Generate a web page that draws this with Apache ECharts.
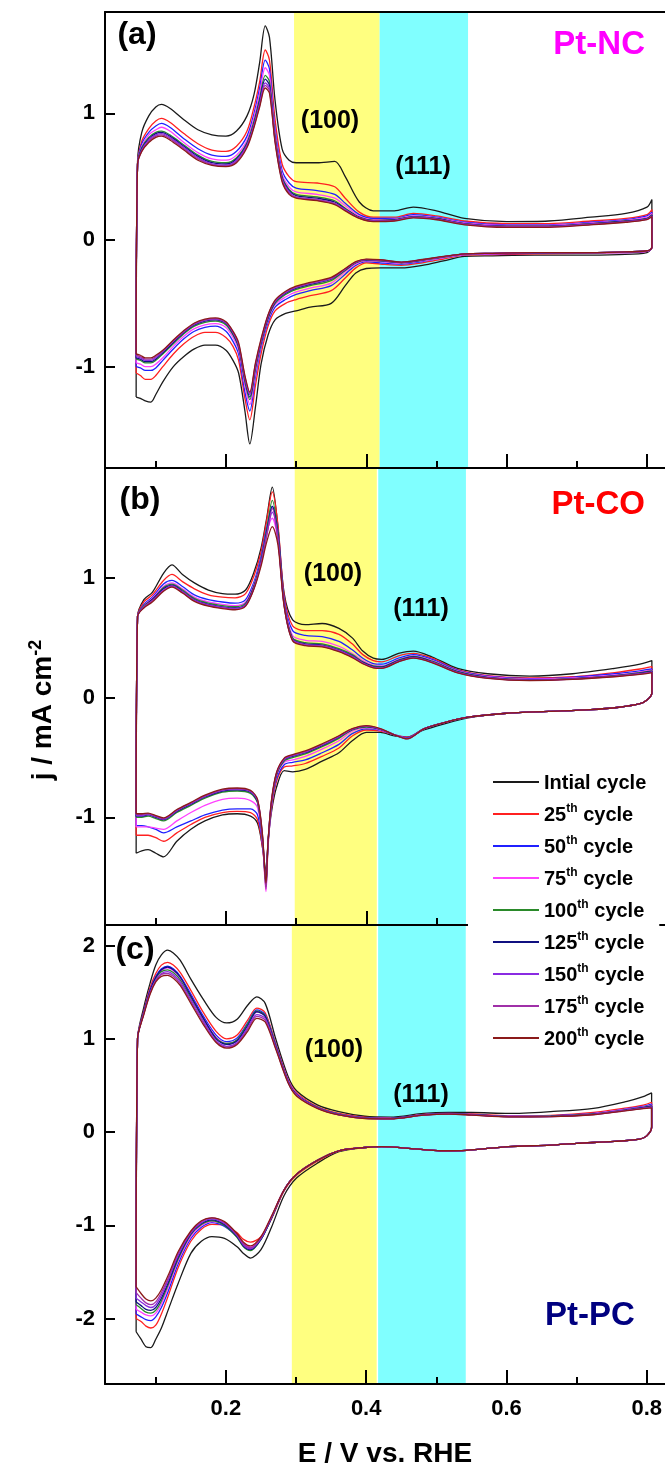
<!DOCTYPE html>
<html><head><meta charset="utf-8">
<script src="https://cdn.jsdelivr.net/npm/echarts@6/dist/echarts.min.js"></script>
<style>html,body{margin:0;padding:0;background:#fff}#c{width:665px;height:1468px}</style>
</head><body><div id="c"></div>
<script>
// ---------- categories / styles ----------
const cycleNames = ['Intial cycle','25th cycle','50th cycle','75th cycle','100th cycle','125th cycle','150th cycle','175th cycle','200th cycle'];
const cycleColors = ['#1a1a1a','#ff2020','#2020ff','#ff40ff','#2a8a2a','#101080','#8a2be2','#a030a8','#8b1a1a'];
const xMajorTicks = [0.2,0.4,0.6,0.8];
const xMinorTicks = [0.1,0.3,0.5,0.7];
const yTicksA = [-1,0,1];
const yTicksB = [-1,0,1];
const yTicksC = [-2,-1,0,1,2];
const bandYellowA = [0.297,0.419], bandCyanA = [0.419,0.545];
const bandYellowB = [0.298,0.415], bandCyanB = [0.417,0.542];
const bandYellowC = [0.294,0.415], bandCyanC = [0.417,0.542];

// ---------- Panel (a) Pt-NC ----------
const EaA = [0.072,0.074,0.08,0.09,0.10,0.108,0.12,0.14,0.16,0.18,0.20,0.215,0.23,0.24,0.248,0.256,0.262,0.27,0.28,0.29,0.30,0.33,0.355,0.37,0.39,0.41,0.44,0.467,0.50,0.54,0.60,0.66,0.72,0.77,0.80,0.807];
const jaA = [
 [-1.24,0.62,0.85,0.98,1.05,1.07,1.04,0.95,0.87,0.83,0.82,0.86,0.98,1.15,1.4,1.69,1.6,1.1,0.72,0.63,0.61,0.61,0.62,0.5,0.3,0.23,0.23,0.26,0.23,0.17,0.145,0.15,0.18,0.21,0.26,0.32],
 [-1.05,0.6,0.78,0.88,0.94,0.96,0.93,0.84,0.76,0.71,0.70,0.74,0.86,1.05,1.25,1.5,1.42,0.95,0.6,0.5,0.46,0.45,0.42,0.33,0.22,0.18,0.18,0.21,0.19,0.15,0.13,0.13,0.15,0.17,0.2,0.24],
 [-1.0,0.6,0.76,0.85,0.9,0.92,0.89,0.8,0.72,0.67,0.66,0.7,0.82,1.0,1.2,1.42,1.35,0.88,0.55,0.45,0.41,0.39,0.36,0.29,0.2,0.17,0.17,0.2,0.18,0.14,0.12,0.12,0.14,0.16,0.19,0.22],
 [-0.97,0.6,0.74,0.83,0.87,0.89,0.86,0.77,0.69,0.64,0.63,0.67,0.79,0.97,1.16,1.36,1.3,0.85,0.52,0.42,0.38,0.36,0.33,0.27,0.19,0.16,0.165,0.19,0.175,0.135,0.115,0.115,0.135,0.155,0.18,0.21],
 [-0.94,0.6,0.73,0.81,0.85,0.86,0.83,0.75,0.67,0.62,0.61,0.65,0.77,0.94,1.12,1.3,1.25,0.82,0.5,0.4,0.36,0.34,0.31,0.25,0.18,0.155,0.16,0.185,0.17,0.13,0.11,0.11,0.13,0.15,0.17,0.2],
 [-0.93,0.6,0.72,0.8,0.84,0.85,0.82,0.74,0.66,0.61,0.6,0.64,0.76,0.92,1.1,1.27,1.22,0.8,0.49,0.39,0.35,0.33,0.3,0.245,0.178,0.152,0.158,0.183,0.168,0.128,0.108,0.108,0.128,0.148,0.168,0.195],
 [-0.92,0.6,0.71,0.79,0.83,0.84,0.81,0.73,0.65,0.6,0.59,0.63,0.75,0.91,1.08,1.24,1.2,0.79,0.48,0.38,0.34,0.32,0.29,0.24,0.175,0.15,0.155,0.18,0.165,0.125,0.106,0.106,0.125,0.145,0.165,0.19],
 [-0.91,0.6,0.7,0.78,0.82,0.83,0.8,0.72,0.64,0.595,0.585,0.62,0.74,0.9,1.06,1.22,1.18,0.78,0.47,0.37,0.335,0.315,0.285,0.235,0.172,0.148,0.153,0.178,0.163,0.123,0.104,0.104,0.123,0.143,0.163,0.188],
 [-0.9,0.6,0.7,0.77,0.81,0.82,0.79,0.71,0.63,0.59,0.58,0.61,0.73,0.89,1.05,1.2,1.16,0.77,0.46,0.36,0.33,0.31,0.28,0.23,0.17,0.145,0.15,0.175,0.16,0.12,0.1,0.1,0.12,0.14,0.16,0.185]
];
const EcA = [0.807,0.80,0.76,0.70,0.64,0.58,0.54,0.51,0.48,0.45,0.42,0.40,0.385,0.37,0.35,0.32,0.30,0.285,0.27,0.26,0.25,0.242,0.234,0.227,0.218,0.21,0.20,0.185,0.17,0.155,0.14,0.125,0.11,0.10,0.093,0.085,0.078,0.072];
const jcA = [
 [-0.05,-0.1,-0.115,-0.12,-0.12,-0.125,-0.13,-0.165,-0.2,-0.22,-0.22,-0.225,-0.26,-0.36,-0.5,-0.53,-0.56,-0.58,-0.63,-0.75,-0.98,-1.32,-1.61,-1.35,-1.05,-0.95,-0.87,-0.83,-0.83,-0.86,-0.92,-1.0,-1.12,-1.22,-1.28,-1.27,-1.25,-1.24],
 [-0.06,-0.09,-0.1,-0.105,-0.11,-0.115,-0.12,-0.15,-0.18,-0.2,-0.19,-0.18,-0.22,-0.3,-0.4,-0.44,-0.47,-0.5,-0.56,-0.68,-0.9,-1.15,-1.42,-1.25,-0.95,-0.84,-0.77,-0.73,-0.73,-0.76,-0.82,-0.9,-1.0,-1.07,-1.1,-1.1,-1.07,-1.05],
 [-0.06,-0.09,-0.1,-0.1,-0.105,-0.11,-0.115,-0.14,-0.17,-0.19,-0.18,-0.17,-0.2,-0.27,-0.36,-0.4,-0.43,-0.47,-0.53,-0.65,-0.85,-1.08,-1.35,-1.2,-0.9,-0.8,-0.72,-0.68,-0.69,-0.72,-0.78,-0.86,-0.95,-1.01,-1.03,-1.03,-1.01,-1.0],
 [-0.06,-0.09,-0.1,-0.1,-0.1,-0.11,-0.115,-0.14,-0.165,-0.185,-0.17,-0.165,-0.19,-0.25,-0.34,-0.38,-0.41,-0.45,-0.51,-0.63,-0.83,-1.05,-1.3,-1.15,-0.87,-0.77,-0.69,-0.66,-0.67,-0.7,-0.76,-0.84,-0.93,-0.98,-1.0,-1.0,-0.98,-0.97],
 [-0.06,-0.085,-0.095,-0.1,-0.1,-0.105,-0.11,-0.135,-0.16,-0.18,-0.165,-0.16,-0.18,-0.24,-0.32,-0.36,-0.39,-0.43,-0.5,-0.62,-0.82,-1.02,-1.26,-1.12,-0.85,-0.75,-0.67,-0.64,-0.65,-0.68,-0.74,-0.82,-0.9,-0.95,-0.97,-0.97,-0.95,-0.94],
 [-0.06,-0.085,-0.095,-0.1,-0.1,-0.105,-0.11,-0.133,-0.158,-0.178,-0.162,-0.157,-0.177,-0.235,-0.31,-0.35,-0.38,-0.42,-0.49,-0.61,-0.81,-1.0,-1.24,-1.1,-0.84,-0.74,-0.66,-0.63,-0.64,-0.67,-0.73,-0.81,-0.89,-0.94,-0.96,-0.96,-0.94,-0.93],
 [-0.06,-0.085,-0.095,-0.1,-0.1,-0.105,-0.11,-0.132,-0.156,-0.176,-0.16,-0.155,-0.175,-0.23,-0.305,-0.345,-0.375,-0.415,-0.485,-0.6,-0.8,-0.99,-1.22,-1.09,-0.83,-0.73,-0.655,-0.625,-0.635,-0.665,-0.725,-0.8,-0.88,-0.93,-0.95,-0.95,-0.93,-0.92],
 [-0.06,-0.085,-0.095,-0.1,-0.1,-0.105,-0.11,-0.131,-0.155,-0.175,-0.158,-0.153,-0.173,-0.228,-0.3,-0.34,-0.37,-0.41,-0.48,-0.595,-0.79,-0.98,-1.21,-1.08,-0.82,-0.725,-0.65,-0.62,-0.63,-0.66,-0.72,-0.795,-0.875,-0.92,-0.94,-0.94,-0.92,-0.91],
 [-0.06,-0.085,-0.095,-0.1,-0.1,-0.105,-0.11,-0.13,-0.154,-0.174,-0.156,-0.151,-0.171,-0.225,-0.295,-0.335,-0.365,-0.405,-0.475,-0.59,-0.78,-0.97,-1.2,-1.07,-0.81,-0.72,-0.645,-0.615,-0.625,-0.655,-0.715,-0.79,-0.87,-0.91,-0.93,-0.93,-0.91,-0.9]
];

// ---------- Panel (b) Pt-CO ----------
const EaB = [0.072,0.074,0.083,0.095,0.111,0.123,0.138,0.155,0.175,0.195,0.213,0.228,0.24,0.25,0.258,0.266,0.274,0.283,0.295,0.313,0.337,0.361,0.38,0.395,0.41,0.422,0.446,0.467,0.494,0.53,0.573,0.633,0.694,0.754,0.79,0.807];
const jaB = [
 [-1.30,0.68,0.82,0.88,1.04,1.11,1.03,0.96,0.9,0.87,0.865,0.9,1.05,1.25,1.5,1.76,1.43,0.87,0.65,0.61,0.62,0.58,0.5,0.39,0.33,0.32,0.37,0.39,0.34,0.245,0.2,0.18,0.2,0.245,0.28,0.31],
 [-1.15,0.68,0.8,0.86,0.98,1.03,0.97,0.91,0.86,0.84,0.835,0.87,1.02,1.22,1.48,1.72,1.45,0.85,0.6,0.56,0.56,0.53,0.45,0.36,0.31,0.3,0.35,0.37,0.33,0.235,0.185,0.165,0.175,0.21,0.24,0.26],
 [-1.07,0.68,0.78,0.84,0.95,0.98,0.93,0.86,0.82,0.8,0.79,0.82,0.97,1.18,1.42,1.6,1.4,0.82,0.56,0.52,0.51,0.47,0.4,0.33,0.285,0.28,0.33,0.36,0.32,0.23,0.18,0.16,0.17,0.2,0.225,0.24],
 [-1.08,0.68,0.77,0.83,0.93,0.96,0.91,0.84,0.8,0.78,0.77,0.8,0.95,1.15,1.38,1.5,1.32,0.8,0.52,0.48,0.47,0.43,0.37,0.31,0.27,0.265,0.32,0.35,0.31,0.225,0.175,0.155,0.165,0.19,0.215,0.23],
 [-1.0,0.68,0.77,0.82,0.92,0.95,0.9,0.83,0.79,0.77,0.76,0.79,0.94,1.15,1.4,1.65,1.38,0.79,0.5,0.46,0.45,0.41,0.36,0.3,0.265,0.26,0.315,0.345,0.305,0.22,0.17,0.15,0.16,0.185,0.21,0.225],
 [-0.99,0.68,0.76,0.82,0.91,0.94,0.89,0.82,0.78,0.76,0.75,0.78,0.93,1.14,1.38,1.6,1.36,0.78,0.49,0.45,0.44,0.4,0.35,0.295,0.26,0.255,0.31,0.34,0.3,0.215,0.168,0.148,0.158,0.182,0.205,0.22],
 [-0.985,0.68,0.76,0.81,0.9,0.935,0.885,0.815,0.775,0.755,0.745,0.775,0.92,1.13,1.36,1.55,1.33,0.77,0.485,0.445,0.435,0.395,0.345,0.29,0.255,0.25,0.305,0.335,0.297,0.212,0.165,0.146,0.156,0.18,0.2,0.215],
 [-0.975,0.68,0.755,0.81,0.895,0.93,0.88,0.81,0.77,0.75,0.74,0.77,0.915,1.12,1.35,1.58,1.33,0.765,0.48,0.44,0.43,0.39,0.34,0.287,0.252,0.247,0.302,0.333,0.295,0.21,0.164,0.145,0.155,0.178,0.198,0.212],
 [-0.97,0.68,0.75,0.8,0.89,0.925,0.875,0.805,0.765,0.745,0.735,0.765,0.91,1.1,1.3,1.43,1.28,0.76,0.475,0.435,0.425,0.385,0.335,0.284,0.25,0.245,0.3,0.33,0.292,0.208,0.162,0.143,0.153,0.175,0.195,0.21]
];
const EcB = [0.807,0.80,0.79,0.76,0.72,0.66,0.60,0.543,0.51,0.482,0.458,0.44,0.42,0.40,0.38,0.361,0.337,0.313,0.295,0.283,0.272,0.265,0.26,0.257,0.252,0.245,0.235,0.216,0.195,0.17,0.15,0.13,0.111,0.1,0.089,0.08,0.072];
const jcB = [
 [0.04,-0.02,-0.05,-0.08,-0.1,-0.115,-0.13,-0.17,-0.22,-0.27,-0.33,-0.32,-0.29,-0.29,-0.36,-0.46,-0.53,-0.6,-0.62,-0.61,-0.75,-0.95,-1.2,-1.45,-1.25,-1.05,-0.99,-0.97,-0.98,-1.03,-1.1,-1.2,-1.33,-1.3,-1.27,-1.28,-1.30],
 [0.04,-0.02,-0.05,-0.08,-0.1,-0.115,-0.13,-0.165,-0.21,-0.26,-0.33,-0.31,-0.28,-0.27,-0.32,-0.42,-0.49,-0.55,-0.57,-0.58,-0.7,-0.92,-1.2,-1.5,-1.25,-1.02,-0.96,-0.95,-0.96,-1.0,-1.06,-1.13,-1.2,-1.17,-1.15,-1.15,-1.15],
 [0.04,-0.02,-0.05,-0.08,-0.1,-0.115,-0.13,-0.165,-0.21,-0.26,-0.335,-0.31,-0.27,-0.26,-0.3,-0.39,-0.46,-0.52,-0.54,-0.56,-0.68,-0.9,-1.22,-1.52,-1.22,-0.98,-0.93,-0.93,-0.94,-0.98,-1.03,-1.08,-1.13,-1.1,-1.08,-1.07,-1.07],
 [0.04,-0.02,-0.05,-0.08,-0.1,-0.115,-0.13,-0.165,-0.21,-0.26,-0.34,-0.31,-0.27,-0.25,-0.28,-0.36,-0.43,-0.49,-0.52,-0.54,-0.66,-0.9,-1.25,-1.62,-1.2,-0.92,-0.86,-0.84,-0.85,-0.9,-0.96,-1.03,-1.1,-1.09,-1.08,-1.08,-1.08],
 [0.04,-0.02,-0.05,-0.08,-0.1,-0.115,-0.13,-0.165,-0.21,-0.26,-0.34,-0.31,-0.265,-0.245,-0.27,-0.34,-0.41,-0.47,-0.5,-0.53,-0.65,-0.88,-1.22,-1.58,-1.18,-0.88,-0.8,-0.78,-0.79,-0.84,-0.9,-0.96,-1.03,-1.01,-0.99,-1.0,-1.0],
 [0.04,-0.02,-0.05,-0.08,-0.1,-0.115,-0.13,-0.165,-0.21,-0.26,-0.34,-0.31,-0.265,-0.24,-0.265,-0.33,-0.4,-0.46,-0.49,-0.52,-0.64,-0.87,-1.2,-1.55,-1.17,-0.87,-0.79,-0.77,-0.78,-0.83,-0.89,-0.95,-1.02,-1.0,-0.98,-0.99,-0.99],
 [0.04,-0.02,-0.05,-0.08,-0.1,-0.115,-0.13,-0.165,-0.21,-0.26,-0.34,-0.31,-0.262,-0.238,-0.262,-0.325,-0.395,-0.455,-0.485,-0.515,-0.635,-0.86,-1.2,-1.56,-1.16,-0.86,-0.785,-0.765,-0.775,-0.825,-0.885,-0.945,-1.015,-0.995,-0.975,-0.985,-0.985],
 [0.04,-0.02,-0.05,-0.08,-0.1,-0.115,-0.13,-0.165,-0.21,-0.26,-0.345,-0.31,-0.26,-0.236,-0.26,-0.32,-0.39,-0.45,-0.48,-0.51,-0.63,-0.86,-1.21,-1.6,-1.15,-0.855,-0.78,-0.76,-0.77,-0.82,-0.88,-0.94,-1.01,-0.99,-0.97,-0.975,-0.975],
 [0.04,-0.02,-0.05,-0.08,-0.1,-0.115,-0.13,-0.165,-0.21,-0.26,-0.345,-0.31,-0.258,-0.234,-0.258,-0.318,-0.385,-0.445,-0.475,-0.505,-0.625,-0.85,-1.2,-1.55,-1.14,-0.85,-0.775,-0.755,-0.765,-0.815,-0.875,-0.935,-1.005,-0.985,-0.965,-0.97,-0.97]
];

// ---------- Panel (c) Pt-PC ----------
const EaC = [0.072,0.074,0.083,0.092,0.1,0.108,0.117,0.125,0.135,0.15,0.168,0.186,0.201,0.216,0.231,0.244,0.256,0.271,0.289,0.301,0.331,0.361,0.398,0.434,0.482,0.518,0.55,0.603,0.663,0.724,0.772,0.795,0.807];
const jaC = [
 [-2.14,1.0,1.34,1.6,1.79,1.9,1.95,1.92,1.84,1.64,1.42,1.23,1.17,1.21,1.36,1.45,1.38,1.0,0.59,0.44,0.29,0.22,0.17,0.16,0.2,0.21,0.21,0.2,0.22,0.255,0.33,0.38,0.42],
 [-2.0,1.0,1.3,1.55,1.7,1.79,1.82,1.79,1.71,1.52,1.28,1.08,1.0,1.04,1.2,1.33,1.28,0.95,0.56,0.42,0.27,0.2,0.16,0.15,0.19,0.2,0.195,0.175,0.18,0.21,0.26,0.29,0.32],
 [-1.95,1.0,1.29,1.53,1.67,1.75,1.78,1.75,1.67,1.48,1.24,1.04,0.97,1.01,1.17,1.31,1.26,0.94,0.55,0.41,0.265,0.195,0.155,0.148,0.188,0.2,0.19,0.17,0.175,0.2,0.25,0.275,0.3],
 [-1.9,1.0,1.28,1.52,1.66,1.73,1.76,1.73,1.65,1.46,1.22,1.02,0.95,0.99,1.15,1.29,1.25,0.93,0.55,0.41,0.26,0.19,0.152,0.146,0.186,0.198,0.188,0.168,0.172,0.198,0.245,0.27,0.29],
 [-1.85,1.0,1.28,1.51,1.65,1.72,1.74,1.71,1.63,1.44,1.21,1.01,0.95,0.99,1.16,1.3,1.25,0.93,0.54,0.4,0.26,0.19,0.15,0.145,0.185,0.197,0.187,0.167,0.17,0.195,0.24,0.265,0.28],
 [-1.82,1.0,1.28,1.52,1.66,1.74,1.77,1.74,1.66,1.46,1.22,1.0,0.94,0.98,1.14,1.29,1.24,0.92,0.54,0.4,0.258,0.188,0.15,0.145,0.185,0.197,0.187,0.166,0.168,0.193,0.238,0.262,0.278],
 [-1.78,1.0,1.27,1.5,1.63,1.7,1.72,1.69,1.61,1.42,1.19,0.98,0.92,0.96,1.12,1.26,1.22,0.91,0.53,0.395,0.256,0.186,0.148,0.143,0.183,0.195,0.185,0.165,0.167,0.19,0.235,0.258,0.27],
 [-1.72,1.0,1.27,1.49,1.62,1.69,1.7,1.67,1.59,1.4,1.17,0.97,0.91,0.95,1.1,1.24,1.2,0.9,0.53,0.39,0.254,0.185,0.147,0.142,0.182,0.194,0.184,0.164,0.166,0.188,0.232,0.255,0.265],
 [-1.66,1.0,1.26,1.48,1.61,1.67,1.68,1.65,1.57,1.38,1.15,0.96,0.9,0.94,1.08,1.22,1.18,0.89,0.52,0.385,0.252,0.184,0.146,0.141,0.181,0.193,0.183,0.163,0.165,0.186,0.23,0.252,0.26]
];
const EcC = [0.807,0.80,0.79,0.754,0.70,0.663,0.603,0.543,0.506,0.47,0.422,0.398,0.361,0.331,0.301,0.283,0.265,0.25,0.235,0.225,0.216,0.198,0.18,0.165,0.15,0.132,0.118,0.108,0.1,0.093,0.086,0.079,0.072];
const jcC = [
 [0.06,-0.04,-0.075,-0.1,-0.12,-0.14,-0.155,-0.195,-0.2,-0.18,-0.155,-0.165,-0.21,-0.33,-0.49,-0.68,-1.02,-1.26,-1.35,-1.3,-1.23,-1.14,-1.12,-1.17,-1.3,-1.62,-1.9,-2.1,-2.22,-2.31,-2.3,-2.22,-2.14],
 [0.05,-0.04,-0.075,-0.1,-0.12,-0.14,-0.155,-0.195,-0.2,-0.18,-0.155,-0.165,-0.2,-0.31,-0.46,-0.63,-0.93,-1.12,-1.18,-1.15,-1.08,-1.0,-0.99,-1.04,-1.17,-1.45,-1.75,-1.95,-2.07,-2.1,-2.08,-2.03,-2.0],
 [0.05,-0.04,-0.075,-0.1,-0.12,-0.14,-0.155,-0.195,-0.2,-0.18,-0.155,-0.165,-0.2,-0.3,-0.45,-0.62,-0.92,-1.14,-1.24,-1.2,-1.12,-1.01,-0.97,-1.02,-1.14,-1.41,-1.7,-1.88,-1.98,-2.02,-2.01,-1.98,-1.95],
 [0.05,-0.04,-0.075,-0.1,-0.12,-0.14,-0.155,-0.195,-0.2,-0.18,-0.155,-0.165,-0.2,-0.3,-0.45,-0.62,-0.91,-1.13,-1.23,-1.19,-1.1,-0.99,-0.96,-1.0,-1.12,-1.38,-1.66,-1.84,-1.94,-1.97,-1.96,-1.93,-1.9],
 [0.05,-0.04,-0.075,-0.1,-0.12,-0.14,-0.155,-0.195,-0.2,-0.18,-0.155,-0.165,-0.2,-0.3,-0.45,-0.62,-0.92,-1.15,-1.27,-1.23,-1.13,-1.0,-0.95,-0.99,-1.1,-1.36,-1.63,-1.81,-1.91,-1.94,-1.93,-1.89,-1.85],
 [0.05,-0.04,-0.075,-0.1,-0.12,-0.14,-0.155,-0.195,-0.2,-0.18,-0.155,-0.165,-0.2,-0.3,-0.45,-0.62,-0.92,-1.15,-1.26,-1.22,-1.12,-0.99,-0.94,-0.98,-1.09,-1.34,-1.61,-1.78,-1.88,-1.91,-1.9,-1.86,-1.82],
 [0.05,-0.04,-0.075,-0.1,-0.12,-0.14,-0.155,-0.195,-0.2,-0.18,-0.155,-0.165,-0.2,-0.3,-0.45,-0.62,-0.91,-1.14,-1.25,-1.21,-1.11,-0.98,-0.93,-0.97,-1.08,-1.32,-1.58,-1.75,-1.85,-1.88,-1.86,-1.82,-1.78],
 [0.05,-0.04,-0.075,-0.1,-0.12,-0.14,-0.155,-0.195,-0.2,-0.18,-0.155,-0.165,-0.2,-0.3,-0.45,-0.62,-0.91,-1.13,-1.24,-1.2,-1.1,-0.97,-0.92,-0.96,-1.07,-1.3,-1.56,-1.72,-1.82,-1.85,-1.83,-1.78,-1.72],
 [0.05,-0.04,-0.075,-0.1,-0.12,-0.14,-0.155,-0.195,-0.2,-0.18,-0.155,-0.165,-0.2,-0.3,-0.45,-0.62,-0.9,-1.12,-1.22,-1.18,-1.09,-0.96,-0.92,-0.95,-1.06,-1.28,-1.53,-1.69,-1.78,-1.81,-1.79,-1.73,-1.66]
];

// ---------- chart construction ----------
const FONT = '"Liberation Sans", Arial, Helvetica, sans-serif';
const X_MIN = 0.0276, X_MAX = 0.8257;
const panels = [
  {top:12,  height:456, ymin:-1.8, ymax:1.8,  yt:yTicksA, Ea:EaA, Ec:EcA, ja:jaA, jc:jcA, yellow:bandYellowA, cyan:bandCyanA},
  {top:468, height:457, ymin:-1.9, ymax:1.92, yt:yTicksB, Ea:EaB, Ec:EcB, ja:jaB, jc:jcB, yellow:bandYellowB, cyan:bandCyanB},
  {top:925, height:459, ymin:-2.7, ymax:2.22, yt:yTicksC, Ea:EaC, Ec:EcC, ja:jaC, jc:jcC, yellow:bandYellowC, cyan:bandCyanC}
];
function loop(Ea, Ec, ja, jc) {
  const d = [];
  const na = Math.min(Ea.length, ja.length), nc = Math.min(Ec.length, jc.length);
  if (Ea.length !== ja.length || Ec.length !== jc.length) console.warn('length mismatch', Ea.length, ja.length, Ec.length, jc.length);
  for (let i = 0; i < na; i++) d.push([Ea[i], ja[i]]);
  for (let i = 0; i < nc; i++) d.push([Ec[i], jc[i]]);
  return d;
}
const axisLine = {show:true, onZero:false, lineStyle:{color:'#000', width:2}};
const grids = [], xAxes = [], yAxes = [], series = [];
panels.forEach((p, i) => {
  grids.push({left:105, top:p.top, width:560, height:p.height});
  const xi = xAxes.length;
  xAxes.push({type:'value', gridIndex:i, min:X_MIN, max:X_MAX, position:'bottom', z:10,
    axisLine:axisLine,
    axisTick:{show:true, inside:true, length:14, customValues:xMajorTicks, lineStyle:{color:'#000', width:2}},
    axisLabel:{show:i===2, customValues:xMajorTicks, formatter:v=>v.toFixed(1), margin:14, color:'#000', fontSize:22, fontWeight:'bold', fontFamily:FONT},
    splitLine:{show:false}});
  xAxes.push({type:'value', gridIndex:i, min:X_MIN, max:X_MAX, position:'bottom', z:10,
    axisLine:{show:false, onZero:false},
    axisTick:{show:true, inside:true, length:7, customValues:xMinorTicks, lineStyle:{color:'#000', width:2}},
    axisLabel:{show:false}, splitLine:{show:false}});
  if (i === 0) {
    xAxes.push({type:'value', gridIndex:i, min:X_MIN, max:X_MAX, position:'top', z:10,
      axisLine:axisLine, axisTick:{show:false}, axisLabel:{show:false}, splitLine:{show:false}});
  }
  yAxes.push({type:'value', gridIndex:i, min:p.ymin, max:p.ymax, z:10,
    axisLine:axisLine,
    axisTick:{show:true, inside:true, length:10, customValues:p.yt, lineStyle:{color:'#000', width:2}},
    axisLabel:{customValues:p.yt, margin:10, color:'#000', fontSize:22, fontWeight:'bold', fontFamily:FONT},
    splitLine:{show:false}});
  series.push({type:'line', xAxisIndex:xi, yAxisIndex:i, data:[], silent:true, z:1,
    markArea:{silent:true, z:1, data:[
      [{xAxis:p.yellow[0], itemStyle:{color:'#ffff80', opacity:1}}, {xAxis:p.yellow[1]}],
      [{xAxis:p.cyan[0], itemStyle:{color:'#80ffff', opacity:1}}, {xAxis:p.cyan[1]}]
    ]}});
  cycleNames.forEach((name, k) => {
    series.push({type:'line', name:name, xAxisIndex:xi, yAxisIndex:i, z:3,
      data:loop(p.Ea, p.Ec, p.ja[k], p.jc[k]),
      showSymbol:false, symbol:'none', smooth:0.3, clip:true,
      color:cycleColors[k],
      lineStyle:{color:cycleColors[k], width:1.3}});
  });
});

function label(x, y, text, size, color, align) {
  return {type:'text', x:x, y:y, z:30,
    style:{text:text, fill:color, font:'bold ' + size + 'px ' + FONT, align:align || 'center', verticalAlign:'middle'}};
}
const graphics = [
  label(137, 35, '(a)', 32, '#000'),
  label(645, 45, 'Pt-NC', 33, '#ff00ff', 'right'),
  label(330, 121, '(100)', 25, '#000'),
  label(423, 167, '(111)', 25, '#000'),
  label(140, 500, '(b)', 32, '#000'),
  label(645, 505, 'Pt-CO', 33, '#ff0000', 'right'),
  label(333, 574, '(100)', 25, '#000'),
  label(421, 609, '(111)', 25, '#000'),
  label(135, 950, '(c)', 32, '#000'),
  label(334, 1050, '(100)', 25, '#000'),
  label(421, 1095, '(111)', 25, '#000'),
  label(590, 1316, 'Pt-PC', 33, '#000080'),
  label(385, 1454, 'E / V vs. RHE', 28, '#000'),
  {type:'text', x:42, y:710, rotation:Math.PI/2, z:30,
    style:{text:'{a|j / mA cm}{b|-2}', align:'center', verticalAlign:'middle',
      rich:{a:{fill:'#000', font:'bold 28px ' + FONT, lineHeight:30, verticalAlign:'bottom'},
            b:{fill:'#000', font:'bold 18px ' + FONT, verticalAlign:'top'}}}}
];

const chart = echarts.init(document.getElementById('c'), null, {renderer:'canvas'});
chart.setOption({
  animation:false,
  backgroundColor:'#fff',
  grid:grids, xAxis:xAxes, yAxis:yAxes, series:series,
  legend:{data:cycleNames, orient:'vertical', left:468, top:763, padding:[10,13,10,25],
    itemGap:10, itemWidth:46, itemHeight:2, icon:'rect', backgroundColor:'#fff', z:20, selectedMode:false,
    formatter:function(n){ const m = n.match(/^(\d+)(th)( cycle)$/); return m ? '{n|'+m[1]+'}{s|'+m[2]+'}{n|'+m[3]+'}' : '{n|'+n+'}'; },
    textStyle:{color:'#000', fontFamily:FONT, fontWeight:'bold', fontSize:20,
      rich:{n:{fontSize:20, fontWeight:'bold', fontFamily:FONT, color:'#000', lineHeight:22, verticalAlign:'bottom'},
            s:{fontSize:12, fontWeight:'bold', fontFamily:FONT, color:'#000', verticalAlign:'top'}}}},
  graphic:graphics
});
</script></body></html>
